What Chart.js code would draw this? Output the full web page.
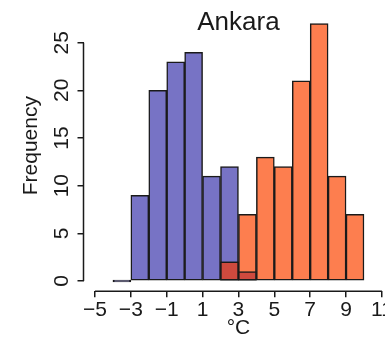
<!DOCTYPE html>
<html><head><meta charset="utf-8">
<script src="https://cdn.jsdelivr.net/npm/chart.js@4/dist/chart.umd.min.js"></script>
<style>
html,body{margin:0;padding:0;background:#fff;overflow:hidden;width:385px;height:341px}
#wrap{position:absolute;left:0;top:0;width:410px;height:341px}
</style>
</head><body><div id="wrap"><canvas id="c" width="410" height="341"></canvas></div>
<script>
const titleText = 'Ankara';
const xTitle = '°C';
const yTitle = 'Frequency';
const binLeftEdges = [-4, -3, -2, -1, 0, 1, 2, 3, 4, 5, 6, 7, 8, 9];
const binWidth = 1;
const blueCounts    = [0, 9, 20, 23, 24, 11, 12, 1, null, null, null, null, null, null];
const orangeCounts  = [null, null, null, null, null, null, 2, 7, 13, 12, 21, 27, 11, 7];
const overlapCounts = [null, null, null, null, null, null, 2, 1, null, null, null, null, null, null];
const xTicks = [-5, -3, -1, 1, 3, 5, 7, 9, 11];
const xTickLabels = ['\u22125', '\u22123', '\u22121', '1', '3', '5', '7', '9', '11'];
const yTicks = [0, 5, 10, 15, 20, 25];
const yTickLabels = ['0', '5', '10', '15', '20', '25'];

const FONT = '"Liberation Sans", Arial, Helvetica, sans-serif';
const INK = '#1a1a1a';

const toPoints = arr => binLeftEdges
  .map((e, i) => ({x: e + binWidth / 2, y: arr[i]}))
  .filter(p => p.y !== null);

const barCommon = {
  grouped: false, barPercentage: 1, categoryPercentage: 1,
  borderWidth: 1.5, borderColor: INK, borderSkipped: false, minBarLength: 2
};

const axisLines = {
  id: 'axisLines',
  afterDraw(chart) {
    const {ctx, chartArea, scales: {x, y}} = chart;
    ctx.save();
    ctx.strokeStyle = INK;
    ctx.lineWidth = 1.5;
    ctx.beginPath();
    ctx.moveTo(x.getPixelForValue(xTicks[0]), chartArea.bottom);
    ctx.lineTo(x.getPixelForValue(xTicks[xTicks.length - 1]), chartArea.bottom);
    ctx.moveTo(chartArea.left, y.getPixelForValue(yTicks[0]));
    ctx.lineTo(chartArea.left, y.getPixelForValue(yTicks[yTicks.length - 1]));
    ctx.stroke();
    ctx.restore();
  }
};

new Chart(document.getElementById('c'), {
  type: 'bar',
  data: {
    datasets: [
      {label: 'overlap', data: toPoints(overlapCounts), backgroundColor: '#cf4a3e', ...barCommon},
      {label: 'warm', data: toPoints(orangeCounts), backgroundColor: '#fd7e4f', ...barCommon},
      {label: 'cold', data: toPoints(blueCounts), backgroundColor: '#7773c5', ...barCommon}
    ]
  },
  options: {
    responsive: false,
    animation: false,
    devicePixelRatio: 1,
    layout: {padding: {left: 0, right: 16.6, top: 0, bottom: 0}},
    plugins: {
      legend: {display: false},
      tooltip: {enabled: false},
      title: {
        display: true, text: titleText, fullSize: false,
        color: INK, font: {family: FONT, size: 26, weight: 'normal'},
        padding: {top: 7, bottom: -38.2}
      }
    },
    scales: {
      x: {
        type: 'linear', min: -5.64, max: 11.64, offset: false,
        afterBuildTicks: s => { s.ticks = xTicks.map(v => ({value: v})); },
        afterFit: s => { s.height = 49.7; s.paddingLeft = 0; s.paddingRight = 0; },
        ticks: {
          autoSkip: false, maxRotation: 0, minRotation: 0, padding: 0,
          color: INK, font: {family: FONT, size: 21},
          callback: v => xTickLabels[xTicks.indexOf(v)]
        },
        grid: {display: true, offset: false, drawOnChartArea: false, drawTicks: true, tickLength: 6, lineWidth: 1.5, color: INK},
        border: {display: false},
        title: {display: true, text: xTitle, color: INK, font: {family: FONT, size: 21}, padding: {top: 0, bottom: 0}}
      },
      y: {
        type: 'linear', min: -1.081, max: 29.48,
        afterBuildTicks: s => { s.ticks = yTicks.map(v => ({value: v})); },
        afterFit: s => { s.width = 83.5; s.paddingTop = 0; s.paddingBottom = 0; },
        ticks: {
          autoSkip: false, minRotation: 90, maxRotation: 90, crossAlign: 'center', padding: 4,
          color: INK, font: {family: FONT, size: 21},
          callback: v => yTickLabels[yTicks.indexOf(v)]
        },
        grid: {display: true, drawOnChartArea: false, drawTicks: true, tickLength: 6, lineWidth: 1.5, color: INK},
        border: {display: false},
        title: {display: true, text: yTitle, color: INK, font: {family: FONT, size: 21}, padding: {top: 19, bottom: 0}}
      }
    }
  },
  plugins: [axisLines]
});
</script>
</body></html>
